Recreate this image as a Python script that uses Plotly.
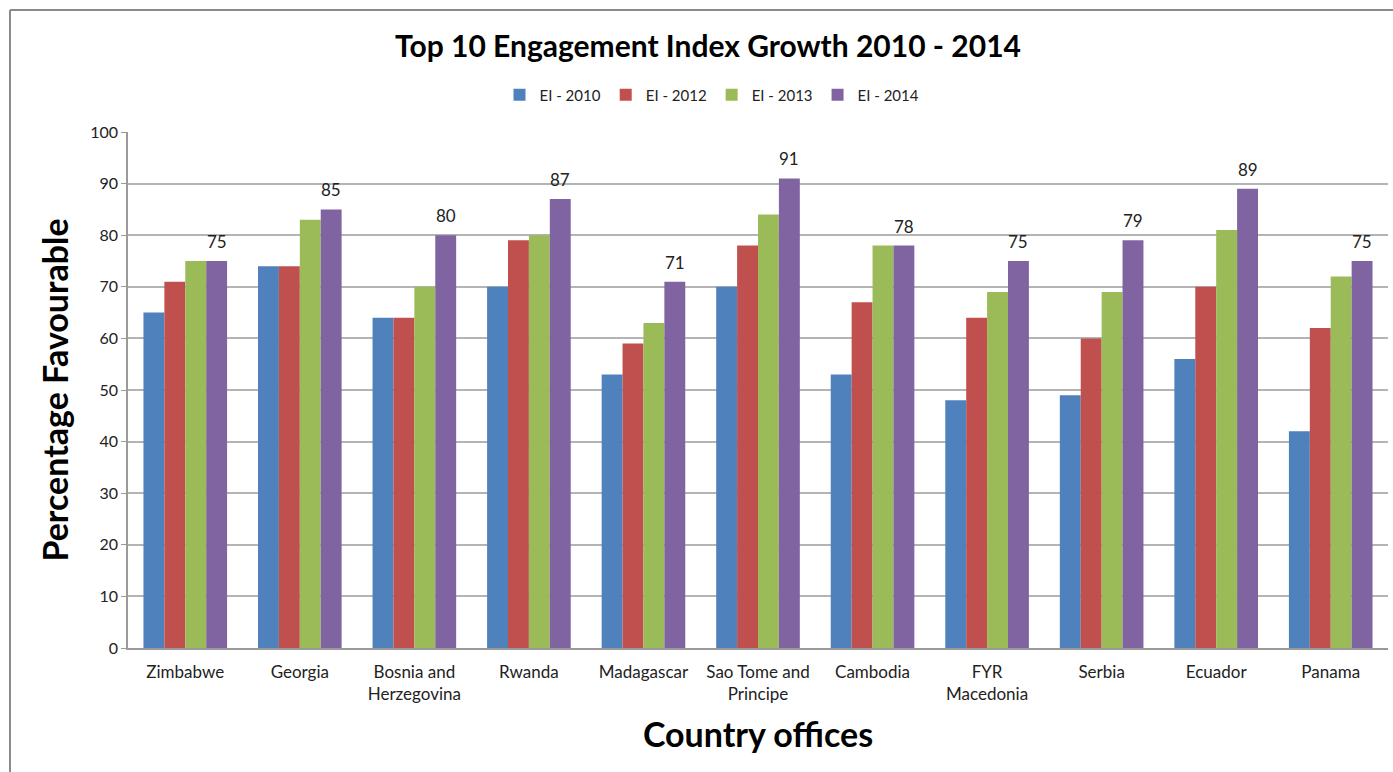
import plotly.graph_objects as go

countries = [
    "Zimbabwe", "Georgia", "Bosnia and<br>Herzegovina", "Rwanda", "Madagascar",
    "Sao Tome and<br>Principe", "Cambodia", "FYR<br>Macedonia", "Serbia", "Ecuador", "Panama",
]
ei_2010 = [65, 74, 64, 70, 53, 70, 53, 48, 49, 56, 42]
ei_2012 = [71, 74, 64, 79, 59, 78, 67, 64, 60, 70, 62]
ei_2013 = [75, 83, 70, 80, 63, 84, 78, 69, 69, 81, 72]
ei_2014 = [75, 85, 80, 87, 71, 91, 78, 75, 79, 89, 75]

series = [
    ("EI - 2010", ei_2010, "#4F81BD"),
    ("EI - 2012", ei_2012, "#C0504D"),
    ("EI - 2013", ei_2013, "#9BBB59"),
    ("EI - 2014", ei_2014, "#8064A2"),
]

FONT = "Lato, 'Open Sans', sans-serif"
BARGAP = 0.27

fig = go.Figure()
for name, vals, color in series:
    fig.add_trace(go.Bar(
        name=name, x=countries, y=vals,
        marker=dict(color=color, line=dict(width=0)),
        cliponaxis=False,
    ))

# value labels above the EI - 2014 bars (last bar of each group)
bar_w = (1 - BARGAP) / len(series)
offset = bar_w * (len(series) - 1) / 2
annotations = [
    dict(x=i + offset, y=v, xref="x", yref="y", text=str(v), showarrow=False,
         yanchor="bottom", yshift=7, font=dict(size=17, color="#222", family=FONT))
    for i, v in enumerate(ei_2014)
]

# plot area spans x 128..1388, y 132..648 in pixels
W, H = 1393, 772
L, R, T, B = 128, 5, 132, 124
pw, ph = W - L - R, H - T - B

def px(x):
    return (x - L) / pw

def py(y):
    return (H - B - y) / ph

fig.update_layout(
    width=W, height=H,
    margin=dict(l=L, r=R, t=T, b=B, pad=0),
    paper_bgcolor="white", plot_bgcolor="white",
    barmode="group", bargap=BARGAP, bargroupgap=0,
    font=dict(family=FONT, color="#222"),
    title=dict(
        text="<b>Top 10 Engagement Index Growth 2010 - 2014</b>",
        x=px(708), xref="paper", xanchor="center",
        y=1 - 46 / H, yref="container", yanchor="middle",
        font=dict(size=30, color="#000", family=FONT),
    ),
    legend=dict(
        orientation="h", x=px(712), xanchor="center", y=py(95), yanchor="middle",
        font=dict(size=15, color="#222"), itemwidth=30, traceorder="normal",
        bgcolor="rgba(0,0,0,0)",
    ),
    xaxis=dict(
        showgrid=False, showline=True, linecolor="#9a9a9a", linewidth=1.5,
        tickfont=dict(size=17, color="#222"), ticks="", ticklabelstandoff=8,
        title=dict(text="<b>Country offices</b>", font=dict(size=34, color="#000"), standoff=20),
    ),
    yaxis=dict(
        range=[0, 100], dtick=10, showgrid=True, gridcolor="#b4b4b4", gridwidth=1.5,
        showline=True, linecolor="#9a9a9a", linewidth=1.5,
        ticks="outside", ticklen=5, tickcolor="#9a9a9a",
        tickfont=dict(size=16, color="#222"), zeroline=False,
        title=dict(text="<b>Percentage Favourable</b>", font=dict(size=34, color="#000"), standoff=11),
    ),
    annotations=annotations,
    shapes=[
        dict(type="line", xref="paper", yref="paper",
             x0=px(10), x1=px(1400), y0=py(10), y1=py(10),
             line=dict(color="#8a8a8a", width=2)),
        dict(type="line", xref="paper", yref="paper",
             x0=px(10), x1=px(10), y0=py(10), y1=py(780),
             line=dict(color="#8a8a8a", width=2)),
    ],
)

fig.write_html("out.html")
